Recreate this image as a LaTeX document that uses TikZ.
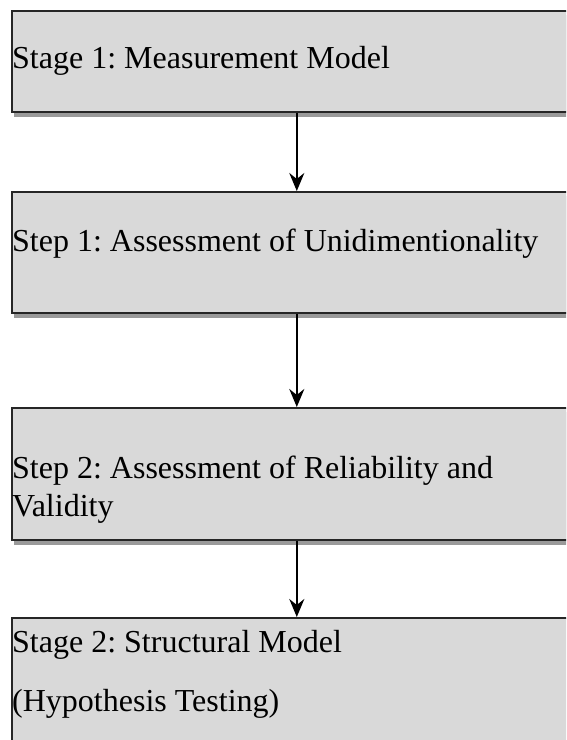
\documentclass[tikz,border=0pt]{standalone}
\usepackage{fontspec}
\setmainfont{Liberation Serif}
\usetikzlibrary{arrows.meta}
\frenchspacing
\begin{document}
\begin{tikzpicture}[x=1pt,y=-1pt,
  stagebox/.style={draw=black!85,line width=1.6pt,fill=boxgray,rectangle,minimum width=570pt,anchor=north west,inner sep=0pt},
  lbl/.style={anchor=base west,inner sep=0pt,font=\fontsize{32}{38}\selectfont},
  conn/.style={line width=2.2pt,-{Stealth[length=18pt,width=15pt,inset=6pt]}}]
\definecolor{boxgray}{HTML}{D9D9D9}
\definecolor{shadowgray}{HTML}{9A9A9A}
\useasboundingbox (0,0) rectangle (566,740);
\clip (0,0) rectangle (566,740);
\fill[white] (0,0) rectangle (566,740);
% shadows
\fill[shadowgray] (13.5,15) rectangle (584,117);
\fill[shadowgray] (13.5,196) rectangle (584,318);
\fill[shadowgray] (13.5,412) rectangle (584,545);
% boxes
\node[stagebox,minimum height=101pt] (b1) at (11,10) {};
\node[stagebox,minimum height=121pt] (b2) at (11,191) {};
\node[stagebox,minimum height=132pt] (b3) at (11,407) {};
\node[stagebox,minimum height=140pt] (b4) at (11,617) {};
% texts
\node[lbl] (t1) at (12,68) {Stage 1: Measurement Model};
\node[lbl] (t2) at (12,251) {Step 1: Assessment of Unidimentionality};
\node[lbl] (t3a) at (12,478) {Step 2: Assessment of Reliability and};
\node[lbl] (t3b) at (12,516) {Validity};
\node[lbl] (t4a) at (12,652) {Stage 2: Structural Model};
\node[lbl] (t4b) at (12,711) {(Hypothesis Testing)};
% connectors
\draw[conn] (b1.south) -- (b2.north);
\draw[conn] (b2.south) -- (b3.north);
\draw[conn] (b3.south) -- (b4.north);
\end{tikzpicture}
\end{document}
